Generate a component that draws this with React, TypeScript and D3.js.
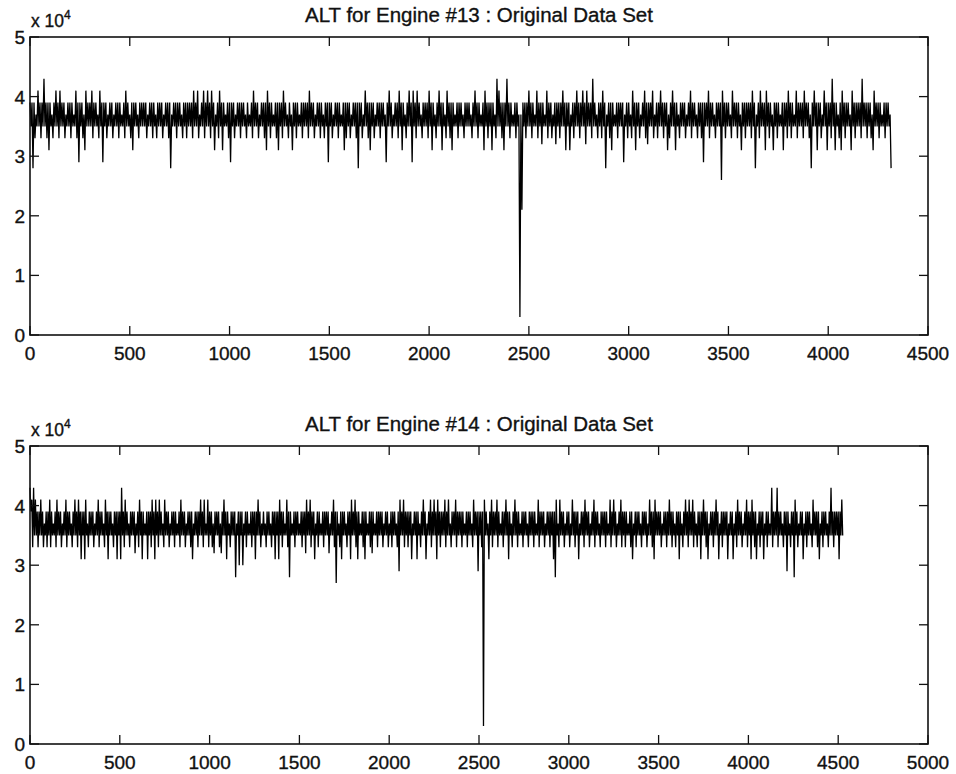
import React from 'react';
import * as d3 from 'd3';

// Dense record (≈4300-4500 samples) read from the picture as bins of BIN records:
// for every bin, the highest and the lowest altitude seen (thousands of ft).
const BIN = 10;

const ALT13_BIN_MAX: number[] = [
  39,39,39,37,41,39,39,43,39,39, 39,37,39,41,39,41,39,39,37,39,
  39,39,37,41,39,39,39,37,41,39, 39,41,39,39,37,41,39,39,39,37,
  39,39,37,39,39,39,37,39,41,39, 37,39,39,39,37,39,39,39,39,37,
  39,39,39,37,39,39,39,37,39,39, 39,37,39,39,39,39,37,39,39,39,
  39,39,41,39,41,37,39,41,39,41, 39,41,39,37,39,41,39,39,37,39,
  39,39,39,37,39,39,39,39,37,39, 37,39,41,39,39,37,39,39,39,41,
  39,39,37,39,39,39,39,41,39,37, 39,37,39,39,39,37,39,39,39,39,
  41,39,39,37,39,39,39,37,39,39, 39,39,37,39,39,39,37,39,39,39,
  39,37,39,39,39,39,39,37,41,39, 39,39,39,37,39,39,39,39,37,39,
  41,39,37,39,39,41,39,39,37,39, 41,39,41,39,41,39,37,39,39,39,
  41,39,39,37,39,41,39,39,37,41, 39,39,39,37,39,39,39,37,39,39,
  39,37,39,41,39,39,37,39,41,39, 39,39,39,37,43,41,39,39,39,43,
  39,39,37,39,39,37,37,39,39,39, 41,39,39,37,41,39,39,39,37,41,
  39,39,37,39,39,39,39,41,39,39, 39,37,39,39,41,39,39,41,39,41,
  39,39,43,39,37,39,39,41,39,37, 39,39,39,37,39,39,39,39,37,39,
  39,37,41,39,39,39,37,39,41,39, 39,39,41,37,39,39,41,39,39,39,
  37,39,41,39,39,37,39,39,39,37, 39,41,39,39,37,39,39,39,39,39,
  41,39,39,37,39,39,39,41,39,39, 39,37,41,39,39,39,37,39,39,39,
  39,39,41,39,37,39,41,39,39,41, 39,39,37,39,39,39,37,39,39,39,
  41,39,39,37,41,39,39,39,41,39, 39,37,39,41,39,39,39,37,41,39,
  39,39,43,39,39,37,39,41,39,39, 39,37,41,39,39,39,39,43,39,39,
  39,39,37,41,39,39,39,37,39,39, 39,37,
];

const ALT13_BIN_MIN: number[] = [
  35,28,33,35,35,33,35,35,33,31, 35,33,35,35,33,35,35,33,35,35,
  33,35,35,33,29,35,33,31,35,35, 35,33,35,35,33,35,29,35,33,35,
  35,33,35,35,33,35,35,33,35,35, 33,31,35,35,33,35,35,35,33,35,
  35,33,35,33,35,35,33,35,35,33, 28,35,35,33,35,35,33,35,33,35,
  35,33,35,35,33,35,35,33,35,35, 33,35,31,35,33,35,31,35,35,33,
  29,35,33,35,35,33,35,35,33,35, 35,33,35,35,33,35,35,33,31,35,
  33,35,35,33,31,35,33,35,35,33, 35,31,35,33,35,35,33,35,35,33,
  35,35,33,35,35,33,35,33,35,29, 35,33,35,35,33,35,35,31,33,35,
  33,35,35,33,28,35,33,35,35,33, 31,35,33,35,35,33,35,35,29,35,
  35,33,35,35,33,35,31,35,33,35, 35,29,35,33,35,35,33,35,35,33,
  35,31,35,33,35,35,31,35,33,35, 33,31,35,35,33,35,35,33,35,35,
  35,33,35,35,33,35,35,31,35,33, 35,31,35,33,35,35,33,31,35,35,
  33,35,35,33,35,3,21,35,33,35, 35,33,35,35,33,35,32,35,35,33,
  35,33,35,32,35,33,35,35,31,35, 31,35,33,35,35,33,35,35,32,35,
  35,33,35,35,33,35,33,35,28,35, 33,31,35,35,33,35,35,29,35,33,
  35,33,35,31,35,33,35,35,33,32, 35,35,33,35,33,35,35,33,35,31,
  33,35,35,31,35,33,35,35,33,35, 35,33,35,35,33,35,33,29,35,35,
  33,35,35,33,35,35,26,35,33,35, 35,33,35,35,33,35,31,35,33,35,
  35,33,35,28,35,33,35,35,31,35, 33,35,31,35,33,35,35,31,35,33,
  35,33,35,35,33,35,35,33,35,35, 33,28,35,35,31,35,33,35,35,31,
  35,33,35,31,35,33,31,35,33,35, 35,31,35,33,35,35,33,35,35,33,
  35,33,31,35,35,33,35,35,33,35, 35,28,
];

const ALT14_BIN_MAX: number[] = [
  43,41,43,41,39,39,41,39,37,39, 39,41,39,37,39,41,39,39,37,39,
  41,39,39,37,39,41,39,41,39,39, 39,41,37,39,39,39,37,39,41,39,
  39,37,41,39,39,39,37,39,39,39, 39,43,39,41,39,37,39,39,39,37,
  39,41,39,39,37,39,39,39,41,39, 41,39,41,39,37,41,39,39,37,39,
  39,39,37,39,41,39,39,37,39,39, 39,37,39,39,39,41,39,41,37,41,
  39,39,37,39,39,39,37,39,41,39, 39,37,39,39,39,37,39,39,39,37,
  39,39,37,39,39,39,39,41,39,37, 39,37,39,39,37,39,39,39,39,41,
  39,39,37,41,39,39,37,39,39,39, 37,39,39,39,41,39,41,39,39,37,
  39,39,37,39,39,39,39,37,39,41, 39,39,37,39,39,39,37,39,39,41,
  39,41,39,39,37,39,39,39,37,39, 39,39,37,39,39,39,39,37,39,39,
  37,39,39,39,37,39,41,39,41,39, 39,39,39,37,39,39,39,37,39,41,
  39,37,39,41,39,41,39,41,39,39, 39,41,39,41,37,39,39,41,39,39,
  39,39,37,39,39,39,37,41,39,39, 39,39,39,41,39,37,39,41,39,39,
  41,39,37,39,39,41,39,39,37,39, 41,39,39,37,39,39,39,37,39,39,
  39,39,37,41,39,39,39,37,39,39, 39,39,39,41,37,41,39,39,37,39,
  39,37,41,39,39,39,37,39,39,41, 39,39,37,39,41,39,39,37,39,39,
  39,39,37,41,39,41,39,37,39,41, 39,39,39,37,39,39,37,39,39,39,
  37,39,39,39,37,41,39,39,41,39, 39,39,37,39,39,39,41,39,39,37,
  39,39,39,37,39,41,39,41,39,41, 39,37,39,39,39,41,39,39,37,39,
  39,39,41,39,37,39,39,39,39,37, 39,39,37,39,41,39,39,37,39,41,
  39,39,41,39,39,37,39,39,39,37, 39,39,37,43,39,39,43,39,39,37,
  39,39,39,37,39,39,41,39,37,39, 39,37,39,39,39,37,41,39,39,39,
  37,39,39,39,37,39,43,39,39,39, 39,39,41,
];

const ALT14_BIN_MIN: number[] = [
  39,33,35,35,33,35,35,33,35,33, 35,33,35,35,33,35,35,33,35,35,
  33,35,35,33,35,35,33,35,31,35, 31,35,33,35,35,33,35,35,33,35,
  35,33,35,31,35,35,33,35,31,35, 31,35,33,35,35,33,35,35,32,35,
  33,35,31,35,35,31,35,33,35,31, 35,33,35,35,33,35,35,33,35,35,
  33,35,35,33,35,35,33,35,35,33, 31,35,35,33,35,35,33,35,35,33,
  35,33,32,35,35,33,32,35,35,31, 35,33,35,35,28,35,30,35,30,35,
  33,35,35,33,35,31,35,35,33,35, 35,33,35,35,33,35,31,35,31,35,
  33,35,35,33,28,35,35,33,35,35, 35,33,35,32,35,35,33,35,31,35,
  33,35,35,33,35,35,32,35,35,33, 27,35,33,31,35,35,33,35,31,35,
  35,33,31,35,35,33,31,35,35,33, 32,35,35,33,35,35,33,35,35,33,
  35,33,35,35,33,29,35,35,33,35, 33,35,31,35,35,31,35,33,35,35,
  31,35,35,33,35,35,31,35,33,35, 35,33,35,35,33,35,35,33,35,35,
  33,35,35,33,35,35,33,35,35,29, 35,33,3,35,35,31,35,33,35,35,
  33,35,35,33,35,35,31,35,33,35, 35,33,35,35,33,35,35,33,35,35,
  33,35,35,33,35,35,33,35,35,33, 35,31,28,35,33,35,35,33,35,35,
  33,35,35,33,35,31,35,35,33,35, 35,33,35,35,33,35,35,33,35,35,
  33,35,35,33,35,35,33,35,35,33, 35,33,35,35,33,31,35,33,35,35,
  33,35,35,33,35,35,33,31,35,35, 35,33,35,35,33,35,35,33,35,33,
  35,31,35,33,35,35,33,35,35,33, 35,33,35,31,35,35,33,31,35,35,
  33,35,35,31,35,33,35,35,31,35, 35,31,35,33,35,35,33,35,35,33,
  35,31,35,33,31,35,33,35,31,35, 33,35,35,33,35,35,33,35,35,33,
  35,29,35,33,35,28,35,33,35,35, 31,35,33,35,35,33,35,35,33,31,
  35,33,35,35,33,35,35,33,35,35, 31,35,35,
];

const X_TICKS_13 = [0, 500, 1000, 1500, 2000, 2500, 3000, 3500, 4000, 4500];
const X_TICKS_14 = [0, 500, 1000, 1500, 2000, 2500, 3000, 3500, 4000, 4500, 5000];
const Y_TICKS = [0, 1, 2, 3, 4, 5]; // in units of 10^4
const TITLES = ['ALT for Engine #13 : Original Data Set', 'ALT for Engine #14 : Original Data Set'];

const FONT = '"Liberation Sans", Arial, Helvetica, sans-serif';
const INK = '#111';

type Pt = { x: number; v: number };

// Each bin contributes its max then its min, in record order.
function binsToPoints(maxs: number[], mins: number[]): Pt[] {
  const pts: Pt[] = [];
  maxs.forEach((m, i) => {
    pts.push({ x: i * BIN, v: m });
    pts.push({ x: i * BIN + BIN / 2, v: mins[i] });
  });
  return pts;
}

type PanelProps = {
  points: Pt[];
  xTicks: number[];
  top: number;
  bottom: number;
  title: string;
};

function Panel({ points, xTicks, top, bottom, title }: PanelProps) {
  const left = 30;
  const right = 928;
  const x = d3.scaleLinear().domain([xTicks[0], xTicks[xTicks.length - 1]]).range([left, right]);
  const y = d3.scaleLinear().domain([0, 50]).range([bottom, top]);
  const line = d3
    .line<Pt>()
    .x((d) => x(d.x))
    .y((d) => y(d.v));
  const tl = 9;
  const textProps = { fontFamily: FONT, fill: INK, stroke: INK, strokeWidth: 0.35 };
  return (
    <g>
      <text x={(left + right) / 2} y={top - 15} textAnchor="middle" fontSize={20.5} {...textProps}>
        {title}
      </text>
      <text x={left + 1} y={top - 10} fontSize={17.5} {...textProps}>
        x 10
        <tspan dy={-8} fontSize={12}>
          4
        </tspan>
      </text>
      <path d={line(points) || ''} fill="none" stroke="#000" strokeWidth={1.3} strokeLinejoin="bevel" />
      <rect x={left} y={top} width={right - left} height={bottom - top} fill="none" stroke={INK} strokeWidth={1.6} />
      {xTicks.map((t) => (
        <g key={'x' + t}>
          <line x1={x(t)} x2={x(t)} y1={bottom} y2={bottom - tl} stroke={INK} strokeWidth={1.3} />
          <line x1={x(t)} x2={x(t)} y1={top} y2={top + tl} stroke={INK} strokeWidth={1.3} />
          <text x={x(t)} y={bottom + 25} textAnchor="middle" fontSize={19} {...textProps}>
            {t}
          </text>
        </g>
      ))}
      {Y_TICKS.map((t) => (
        <g key={'y' + t}>
          <line x1={left} x2={left + tl} y1={y(t * 10)} y2={y(t * 10)} stroke={INK} strokeWidth={1.3} />
          <line x1={right} x2={right - tl} y1={y(t * 10)} y2={y(t * 10)} stroke={INK} strokeWidth={1.3} />
          <text x={left - 5} y={y(t * 10) + 7} textAnchor="end" fontSize={19} {...textProps}>
            {t}
          </text>
        </g>
      ))}
    </g>
  );
}

export default function App() {
  const p13 = binsToPoints(ALT13_BIN_MAX, ALT13_BIN_MIN);
  const p14 = binsToPoints(ALT14_BIN_MAX, ALT14_BIN_MIN);
  return (
    <svg width={956} height={774} style={{ position: 'absolute', left: 0, top: 0, background: '#fff' }}>
      <rect width={956} height={774} fill="#fff" />
      <Panel points={p13} xTicks={X_TICKS_13} top={37} bottom={335} title={TITLES[0]} />
      <Panel points={p14} xTicks={X_TICKS_14} top={446} bottom={744} title={TITLES[1]} />
    </svg>
  );
}
